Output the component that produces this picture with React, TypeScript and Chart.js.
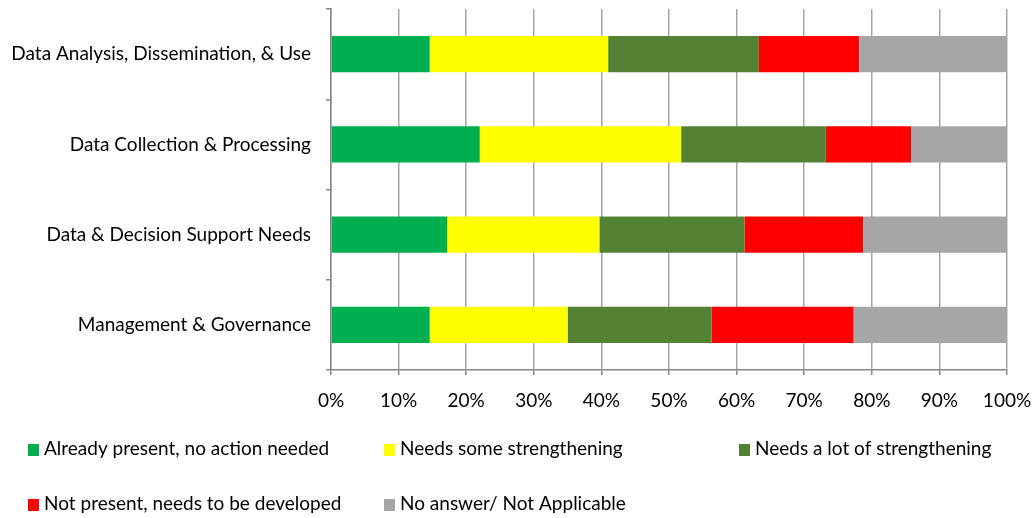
import React, { useEffect, useRef } from "react";
import { Chart, registerables } from "chart.js";

Chart.register(...registerables);

const categories = [
  "Data Analysis, Dissemination, & Use",
  "Data Collection & Processing",
  "Data & Decision Support Needs",
  "Management & Governance",
];

const seriesNames = [
  "Already present, no action needed",
  "Needs some strengthening",
  "Needs a lot of strengthening",
  "Not present, needs to be developed",
  "No answer/ Not Applicable",
];

const seriesColors = ["#00B050", "#FFFF00", "#548235", "#FF0000", "#A6A6A6"];

// percentage shares per category, in category order
const alreadyPresent = [14.6, 22.0, 17.2, 14.6];
const someStrengthening = [26.4, 29.8, 22.5, 20.4];
const lotStrengthening = [22.3, 21.4, 21.5, 21.3];
const notPresent = [14.8, 12.6, 17.5, 21.0];
const noAnswer = [21.9, 14.2, 21.3, 22.7];

const seriesValues = [alreadyPresent, someStrengthening, lotStrengthening, notPresent, noAnswer];

const xTicks = [0, 10, 20, 30, 40, 50, 60, 70, 80, 90, 100];

const FONT = "Lato, 'Open Sans', sans-serif";
const FONT_SIZE = 19;

// Legend laid out as a fixed three-column grid below the axis
const gridLegend = {
  id: "gridLegend",
  afterDraw(chart: any) {
    const ctx = chart.ctx;
    const cols = [28, 384, 739];
    const rows = [449, 504];
    ctx.save();
    ctx.font = `${FONT_SIZE}px ${FONT}`;
    ctx.textBaseline = "middle";
    ctx.textAlign = "left";
    chart.data.datasets.forEach((ds: any, i: number) => {
      const x = cols[i % 3];
      const y = rows[Math.floor(i / 3)];
      ctx.fillStyle = ds.backgroundColor;
      ctx.fillRect(x, y - 5, 11, 12);
      ctx.fillStyle = "#000";
      ctx.fillText(ds.label, x + 16, y);
    });
    ctx.restore();
  },
};

export default function App() {
  const canvasRef = useRef<HTMLCanvasElement | null>(null);

  useEffect(() => {
    document.body.style.margin = "0";
    const canvas = canvasRef.current;
    if (!canvas) return;
    const chart = new Chart(canvas, {
      type: "bar",
      data: {
        labels: categories,
        datasets: seriesNames.map((name, i) => ({
          label: name,
          data: seriesValues[i],
          backgroundColor: seriesColors[i],
          borderWidth: 0,
          categoryPercentage: 1,
          barPercentage: 0.4,
        })),
      },
      options: {
        indexAxis: "y",
        responsive: false,
        animation: false,
        layout: { padding: { top: 9, right: 28, bottom: 98, left: 0 } },
        plugins: {
          legend: { display: false },
          tooltip: { enabled: false },
        },
        scales: {
          x: {
            stacked: true,
            min: 0,
            max: 100,
            afterBuildTicks: (scale: any) => {
              scale.ticks = xTicks.map((v) => ({ value: v }));
            },
            ticks: {
              callback: (v: any) => `${v}%`,
              color: "#000",
              font: { family: FONT, size: FONT_SIZE },
              padding: 14,
              maxRotation: 0,
            },
            grid: { color: "#A6A6A6", tickLength: 5, tickColor: "#868686", lineWidth: 1.5 },
            border: { color: "#868686", width: 1.5 },
            afterFit: (scale: any) => {
              scale.height = 50;
              scale.paddingLeft = 0;
              scale.paddingRight = 0;
            },
          },
          y: {
            stacked: true,
            ticks: {
              color: "#000",
              font: { family: FONT, size: FONT_SIZE },
              padding: 15,
            },
            grid: {
              offset: true,
              drawOnChartArea: false,
              tickLength: 5,
              color: "#868686",
              lineWidth: 1.5,
            },
            border: { color: "#868686", width: 1.5 },
            afterFit: (scale: any) => {
              scale.width = 331;
              scale.paddingTop = 0;
              scale.paddingBottom = 0;
            },
          },
        },
      },
      plugins: [gridLegend],
    } as any);
    return () => chart.destroy();
  }, []);

  return <canvas ref={canvasRef} width={1035} height={518} style={{ display: "block" }} />;
}
